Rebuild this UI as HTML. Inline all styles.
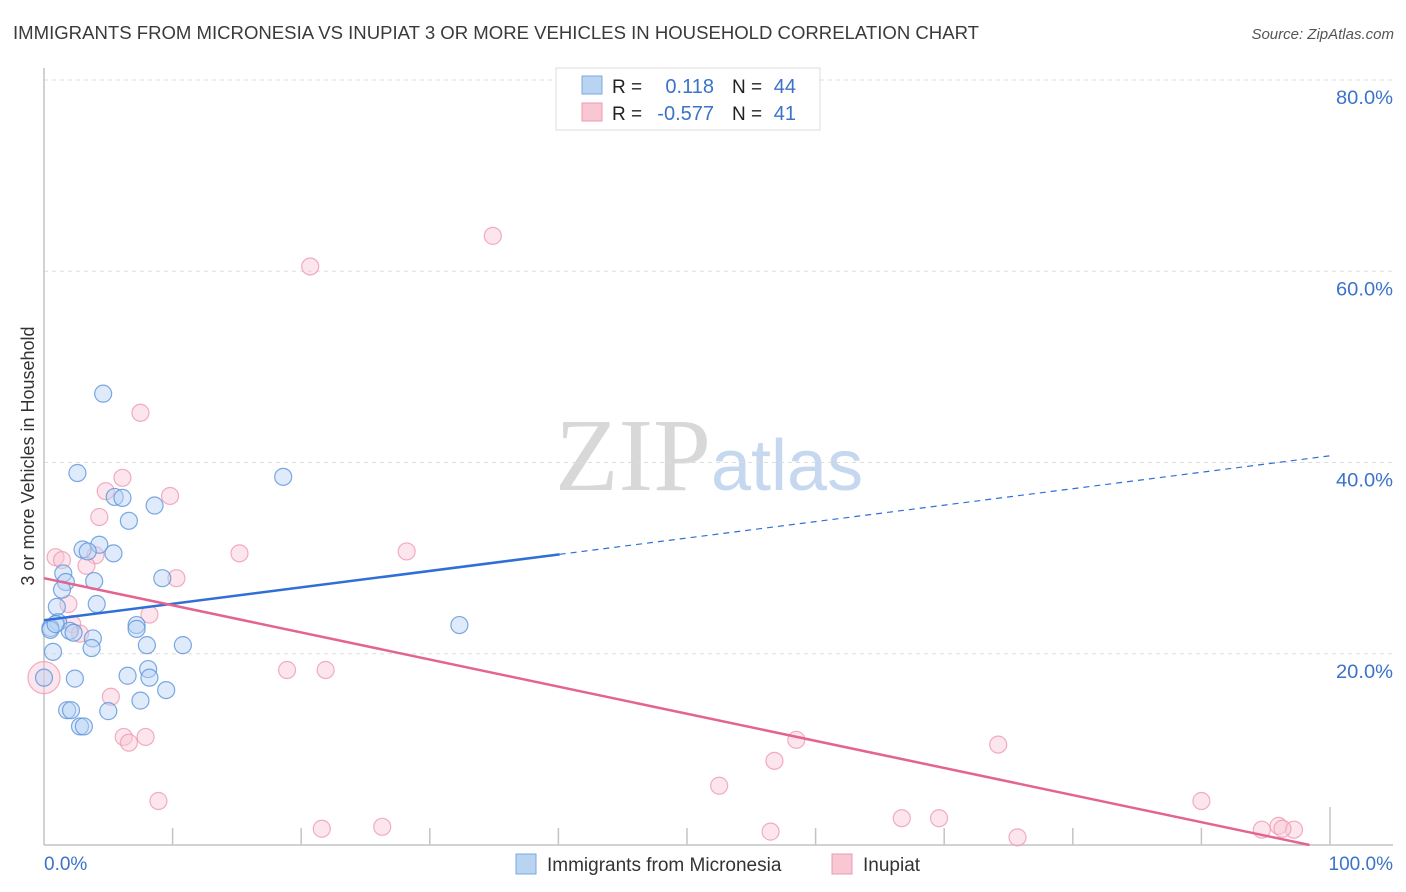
<!DOCTYPE html>
<html><head><meta charset="utf-8">
<style>
body{margin:0;background:#fff;font-family:"Liberation Sans",sans-serif;}
svg{display:block}
</style></head>
<body>
<svg id="chart" width="1406" height="892" xmlns="http://www.w3.org/2000/svg">
<text x="13" y="39" font-size="18" fill="#3a3a3a" textLength="966" lengthAdjust="spacingAndGlyphs" font-family="Liberation Sans, sans-serif">IMMIGRANTS FROM MICRONESIA VS INUPIAT 3 OR MORE VEHICLES IN HOUSEHOLD CORRELATION CHART</text>
<text x="1394" y="39" font-size="15" fill="#555" text-anchor="end" font-style="italic">Source: ZipAtlas.com</text>
<text x="555" y="490" font-size="104"><tspan fill="#d8d8d8" font-family="Liberation Serif, serif">ZIP</tspan><tspan fill="#c5d8ef" font-size="72" font-family="Liberation Sans, sans-serif">atlas</tspan></text>
<text transform="translate(34,456) rotate(-90)" font-size="18" fill="#333" text-anchor="middle">3 or more Vehicles in Household</text>
<g id="grid"></g><g id="marks"></g>
<g>
<rect x="556" y="68" width="264" height="62" fill="#fff" stroke="#ddd"/>
<rect x="582" y="76" width="20" height="18" fill="#b9d3f3" stroke="#7aa8e0"/>
<rect x="582" y="103" width="20" height="18" fill="#f9c6d4" stroke="#ee9ab2"/>
<text x="612" y="93" font-size="19" fill="#222">R =</text><text x="714" y="93" font-size="20" fill="#3b73c8" text-anchor="end">0.118</text>
<text x="732" y="93" font-size="19" fill="#222">N =</text><text x="796" y="93" font-size="20" fill="#3b73c8" text-anchor="end">44</text>
<text x="612" y="120" font-size="19" fill="#222">R =</text><text x="714" y="120" font-size="20" fill="#3b73c8" text-anchor="end">-0.577</text>
<text x="732" y="120" font-size="19" fill="#222">N =</text><text x="796" y="120" font-size="20" fill="#3b73c8" text-anchor="end">41</text>
</g>
<g>
<rect x="516" y="854" width="20" height="20" fill="#b9d3f3" stroke="#7aa8e0"/>
<text x="547" y="871" font-size="19" fill="#333">Immigrants from Micronesia</text>
<rect x="832" y="854" width="20" height="20" fill="#f9c6d4" stroke="#ee9ab2"/>
<text x="863" y="871" font-size="19" fill="#333">Inupiat</text>
</g>
</svg>
<script>
const yTicks=[20,40,60,80];
const yTickLabels=["20.0%","40.0%","60.0%","80.0%"];
const xTickLabels=["0.0%","100.0%"];
const blueX=[4.6,2.6,18.6,5.5,6.1,8.6,6.6,3.0,4.3,5.4,3.4,1.5,3.9,1.7,1.4,9.2,4.1,1.0,7.2,7.2,1.1,0.5,2.0,2.3,3.8,0.5,8.0,3.7,10.8,32.3,0.7,6.5,8.1,8.2,2.4,9.5,7.5,5.0,1.8,2.1,2.8,3.1,0,0.9];
const blueY=[47.2,38.9,38.5,36.4,36.3,35.5,33.9,30.9,31.4,30.5,30.7,28.4,27.6,27.5,26.7,27.9,25.2,24.9,23.0,22.6,23.3,22.7,22.4,22.2,21.6,22.5,20.9,20.6,20.9,23.0,20.2,17.7,18.4,17.5,17.4,16.2,15.1,14.0,14.1,14.1,12.4,12.4,17.5,23.1];
const pinkX=[34.9,20.7,7.5,6.1,4.8,9.8,4.3,15.2,28.2,0.9,1.4,4.0,3.3,10.3,1.9,8.2,2.2,2.8,0,18.9,21.9,5.2,6.2,7.9,6.6,58.5,74.2,56.8,52.5,8.9,90.0,21.6,26.3,66.7,69.6,56.5,75.7,96.0,94.7,97.2,96.3];
const pinkY=[63.7,60.5,45.2,38.4,37.0,36.5,34.3,30.5,30.7,30.1,29.8,30.3,29.2,27.9,25.2,24.1,23.1,22.1,17.5,18.3,18.3,15.5,11.3,11.3,10.7,11.0,10.5,8.8,6.2,4.6,4.6,1.7,1.9,2.8,2.8,1.4,0.8,2.0,1.6,1.6,1.7];
const blueTrend=[23.5,40.7];
const blueSolidEnd=40.1;
const pinkTrend=[27.9,-0.45];
const NS="http://www.w3.org/2000/svg";
const X=v=>44+v*12.86, Y=v=>845-v*9.5625;
function mk(tag,attrs,parent){const e=document.createElementNS(NS,tag);for(const k in attrs)e.setAttribute(k,attrs[k]);parent.appendChild(e);return e;}
const grid=document.getElementById('grid'), marks=document.getElementById('marks');
yTicks.forEach((t,i)=>{
 const l=mk('line',{x1:44,x2:1393,y1:Y(t),y2:Y(t),stroke:'#ddd','stroke-dasharray':'4,4'},grid);
 
 
 const tx=mk('text',{x:1393,y:Y(t)+24,'font-size':19,fill:'#3b73c8','text-anchor':'end',textLength:57,lengthAdjust:'spacingAndGlyphs'},grid);
 tx.textContent=yTickLabels[i];
 
 
});
const ax=mk('line',{x1:44,x2:44,y1:68,y2:845,stroke:'#c4c4c4','stroke-width':1.5},grid);


const bx=mk('line',{x1:44,x2:1393,y1:845,y2:845,stroke:'#c4c4c4','stroke-width':1.5},grid);


for(let i=1;i<=10;i++){
 const t=mk('line',{x1:X(i*10),x2:X(i*10),y1:i==10?807:828,y2:845,stroke:'#c4c4c4','stroke-width':1.5},grid);
 
 
}
[[0,'start',44],[100,'end',1393]].forEach((a,i)=>{
 const t=mk('text',{x:a[2],y:870,'font-size':19,fill:'#3b73c8','text-anchor':a[1]},grid);
 t.textContent=xTickLabels[i];
 
 
});
function pts(xs,ys,fill,stroke,name){
 xs.forEach((x,i)=>{
  const big=(x===0&&ys[i]===17.5&&name==='inupiat-point');
  const c=mk('circle',{cx:X(x),cy:Y(ys[i]),r:big?16:8.5,fill:fill,'fill-opacity':0.45,stroke:stroke,'stroke-width':1.2,'stroke-opacity':0.8},marks);
  
  
 });
}
pts(pinkX,pinkY,'#f9c6d4','#ee9ab2','inupiat-point');
pts(blueX,blueY,'#b9d3f3','#5b93dc','micronesia-point');
const bAt=x=>blueTrend[0]+(blueTrend[1]-blueTrend[0])*x/100;
const l1=mk('line',{x1:X(0),y1:Y(bAt(0)),x2:X(blueSolidEnd),y2:Y(bAt(blueSolidEnd)),stroke:'#2f6fd6','stroke-width':2.5},marks);


const l2=mk('line',{x1:X(blueSolidEnd),y1:Y(bAt(blueSolidEnd)),x2:X(100),y2:Y(bAt(100)),stroke:'#2f6fd6','stroke-width':1.2,'stroke-dasharray':'6,5'},marks);


const pAt=x=>pinkTrend[0]+(pinkTrend[1]-pinkTrend[0])*x/100;
const pEnd=pinkTrend[0]/(pinkTrend[0]-pinkTrend[1])*100;
const l3=mk('line',{x1:X(0),y1:Y(pAt(0)),x2:X(pEnd),y2:Y(0),stroke:'#e4648f','stroke-width':2.5},marks);


</script>
</body></html>
